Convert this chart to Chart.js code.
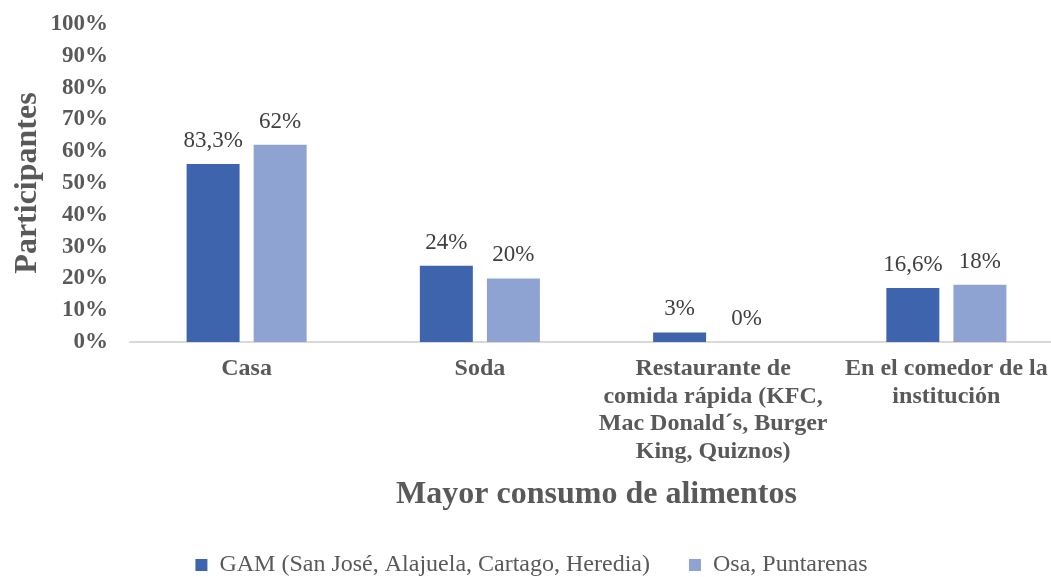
<!DOCTYPE html>
<html>
<head>
<meta charset="utf-8">
<script src="https://cdn.jsdelivr.net/npm/chart.js@4.4.1/dist/chart.umd.min.js"></script>
<style>
  html, body { margin: 0; padding: 0; overflow: hidden; background: #fff; }
  canvas { display: block; }
</style>
</head>
<body>
<canvas id="chart" width="1063" height="587"></canvas>
<script>
const categories = [
  ['Casa'],
  ['Soda'],
  ['Restaurante de', 'comida rápida (KFC,', 'Mac Donald´s, Burger', 'King, Quiznos)'],
  ['En el comedor de la', 'institución']
]
const seriesNames = ['GAM (San José, Alajuela, Cartago, Heredia)', 'Osa, Puntarenas']
const gamValues = [56, 24, 3, 17]
const osaValues = [62, 20, 0, 18]
const gamLabels = ['83,3%', '24%', '3%', '16,6%']
const osaLabels = ['62%', '20%', '0%', '18%']
const yTicks = [0, 10, 20, 30, 40, 50, 60, 70, 80, 90, 100]

const grey = '#595959'
Chart.defaults.font.family = "'Liberation Serif', 'Times New Roman', serif"

// writes the value text above each bar
const barLabels = {
  id: 'barLabels',
  afterDatasetsDraw (chart) {
    const ctx = chart.ctx
    ctx.save()
    ctx.font = "23px 'Liberation Serif'"
    ctx.fillStyle = '#404040'
    ctx.textAlign = 'center'
    ctx.textBaseline = 'alphabetic'
    chart.data.datasets.forEach((ds, i) => {
      chart.getDatasetMeta(i).data.forEach((bar, j) => {
        ctx.fillText(ds.valueLabels[j], bar.x, bar.y - 17)
      })
    })
    ctx.restore()
  }
}

new Chart(document.getElementById('chart').getContext('2d'), {
  type: 'bar',
  data: {
    labels: categories,
    datasets: [{
      label: seriesNames[0],
      data: gamValues,
      valueLabels: gamLabels,
      backgroundColor: '#3d64ad'
    }, {
      label: seriesNames[1],
      data: osaValues,
      valueLabels: osaLabels,
      backgroundColor: '#8fa3d3'
    }]
  },
  options: {
    responsive: false,
    animation: false,
    categoryPercentage: 0.575,
    barPercentage: 0.79,
    layout: { padding: { top: 24, left: 0, right: 0, bottom: 0 } },
    plugins: {
      legend: {
        position: 'bottom',
        labels: {
          color: grey,
          font: { size: 24 },
          boxWidth: 12,
          boxHeight: 12,
          padding: 39
        }
      },
      tooltip: { enabled: false }
    },
    scales: {
      x: {
        grid: { display: false, drawTicks: false },
        border: { color: '#d9d9d9', width: 2 },
        ticks: {
          color: grey,
          font: { size: 24, weight: 'bold', lineHeight: 1.15 },
          padding: 13,
          maxRotation: 0,
          autoSkip: false
        },
        title: {
          display: true,
          text: 'Mayor consumo de alimentos',
          color: grey,
          font: { size: 32, weight: 'bold' },
          padding: { top: 0, bottom: 0 }
        },
        afterFit (scale) { scale.height = 172 }
      },
      y: {
        min: 0,
        max: 100,
        grid: { display: false, drawTicks: false },
        border: { display: false },
        ticks: {
          stepSize: 10,
          color: grey,
          font: { size: 23, weight: 'bold' },
          padding: 22,
          callback: function (value) {
            if (yTicks.includes(value)) return value + '%'
          }
        },
        title: {
          display: true,
          text: 'Participantes',
          color: grey,
          font: { size: 32, weight: 'bold' },
          padding: { top: 9, bottom: 0 }
        },
        afterFit (scale) {
          scale.width = 130
          scale.paddingTop = 0
          scale.paddingBottom = 0
        }
      }
    }
  },
  plugins: [barLabels]
})
</script>
</body>
</html>
